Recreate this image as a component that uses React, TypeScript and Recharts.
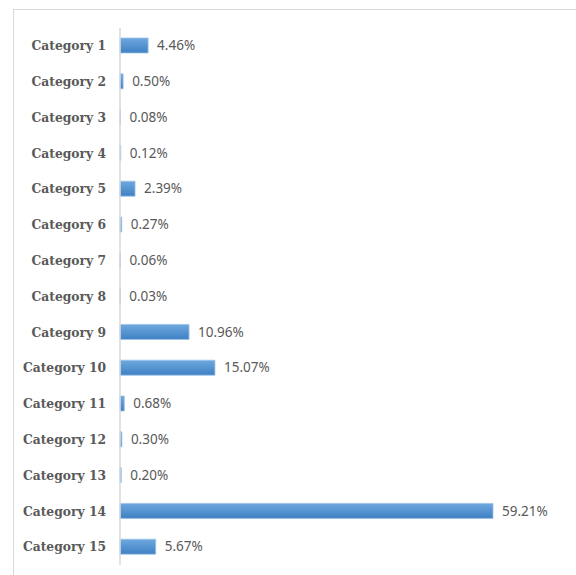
import React from 'react';
import { BarChart, Bar, XAxis, YAxis, LabelList } from 'recharts';

const categories = [
  'Category 1', 'Category 2', 'Category 3', 'Category 4', 'Category 5',
  'Category 6', 'Category 7', 'Category 8', 'Category 9', 'Category 10',
  'Category 11', 'Category 12', 'Category 13', 'Category 14', 'Category 15',
];
const shares = [4.46, 0.5, 0.08, 0.12, 2.39, 0.27, 0.06, 0.03, 10.96, 15.07, 0.68, 0.3, 0.2, 59.21, 5.67];

const data = categories.map((name, i) => ({ name, value: shares[i] }));

export default function App() {
  return (
    <div style={{ position: 'absolute', left: 0, top: 0, width: 576, height: 575, background: '#fff', overflow: 'hidden' }}>
      {/* outer chart frame, runs off the right and bottom edges */}
      <div style={{ position: 'absolute', left: 13, top: 9, width: 620, height: 620, border: '1.5px solid #d9d9d9', boxSizing: 'border-box' }} />
      <div style={{ position: 'absolute', left: 0, top: 0 }}>
        <BarChart
          width={576}
          height={575}
          data={data}
          layout="vertical"
          margin={{ top: 28, right: 15, bottom: 10, left: 0 }}
        >
          <defs>
            <linearGradient id="barFill" x1="0" y1="0" x2="0" y2="1">
              <stop offset="0%" stopColor="#6ea8de" />
              <stop offset="100%" stopColor="#3f80c4" />
            </linearGradient>
          </defs>
          <XAxis type="number" domain={[0, 70]} hide />
          <YAxis
            type="category"
            dataKey="name"
            width={120}
            tickSize={0}
            tickMargin={14}
            axisLine={{ stroke: '#d9d9d9', strokeWidth: 1.5 }}
            tickLine={false}
            interval={0}
            tick={{ fill: '#595959', fontSize: 12.3, fontWeight: 700, fontFamily: '"DejaVu Serif", serif' }}
          />
          <Bar dataKey="value" fill="url(#barFill)" stroke="#9cc3e8" strokeWidth={0.8} barSize={15} isAnimationActive={false}>
            <LabelList
              dataKey="value"
              position="right"
              offset={9}
              formatter={(v: any) => `${Number(v).toFixed(2)}%`}
              style={{ fill: '#595959', fontSize: 13.5, fontFamily: '"Noto Sans", sans-serif' }}
            />
          </Bar>
        </BarChart>
      </div>
    </div>
  );
}
